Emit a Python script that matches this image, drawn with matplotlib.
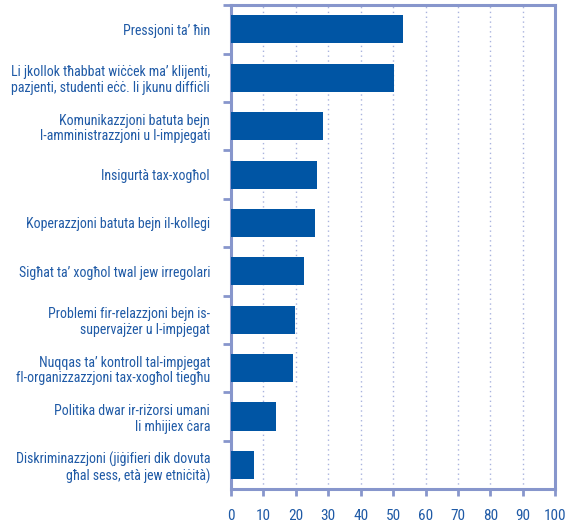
import matplotlib

matplotlib.use("Agg")
import matplotlib.pyplot as plt  # noqa: E402
import matplotlib.font_manager as fm  # noqa: E402
from matplotlib.ticker import FixedLocator  # noqa: E402

_names = {f.name for f in fm.fontManager.ttflist}
_FONT = next((n for n in ("Liberation Sans Narrow", "Roboto Condensed", "Open Sans Condensed")
              if n in _names), "Liberation Sans")

plt.rcParams.update({
    "font.family": [_FONT, "DejaVu Sans"],
    "font.size": 10,
})

categories = [
    "Pressjoni ta\u2019 \u0127in",
    "Li jkollok t\u0127abbat wi\u010b\u010bek ma\u2019 klijenti,\npazjenti, studenti e\u010b\u010b. li jkunu diffi\u010bli",
    "Komunikazzjoni batuta bejn\nl-amministrazzjoni u l-impjegati",
    "Insigurt\u00e0 tax-xog\u0127ol",
    "Koperazzjoni batuta bejn il-kollegi",
    "Sig\u0127at ta\u2019 xog\u0127ol twal jew irregolari",
    "Problemi fir-relazzjoni bejn is-\nsupervaj\u017cer u l-impjegat",
    "Nuqqas ta\u2019 kontroll tal-impjegat\nfl-organizzazzjoni tax-xog\u0127ol tieg\u0127u",
    "Politika dwar ir-ri\u017corsi umani\nli mhijiex \u010bara",
    "Diskriminazzjoni (ji\u0121ifieri dik dovuta\ng\u0127al sess, et\u00e0 jew etni\u010bit\u00e0)",
]
values = [53.1, 50.3, 28.4, 26.5, 25.9, 22.5, 19.8, 19.1, 13.9, 7.1]
xticks = list(range(0, 101, 10))

BAR = "#0055a4"
AXIS = "#8796cc"
TEXT = "#1f5aa6"
GRID = "#a9b3de"

fig = plt.figure(figsize=(5.66, 5.27), dpi=100)
ax = fig.add_axes([0.408, 0.072, 0.573, 0.918])

pos = list(range(len(categories)))
ax.barh(pos, values, height=0.58, color=BAR, zorder=3)

ax.set_xlim(0, 100)
ax.set_ylim(len(categories) - 0.5, -0.5)

ax.set_xticks(xticks)
ax.set_xticklabels([str(t) for t in xticks])
ax.xaxis.grid(True, linestyle=(0, (1, 2.5)), color=GRID, lw=1.0, zorder=0)

ax.set_yticks(pos)
ax.set_yticklabels(categories, ha="right", multialignment="right", linespacing=1.15)
ax.yaxis.set_minor_locator(FixedLocator([p + 0.5 for p in pos[:-1]] + [-0.5]))

ax.tick_params(axis="y", which="major", length=0, pad=15, labelcolor=TEXT, labelsize=10)
ax.tick_params(axis="y", which="minor", length=6, width=2, color=AXIS, direction="out")
ax.tick_params(axis="x", which="major", length=5, width=2, color=AXIS, direction="out",
               pad=9, labelcolor=TEXT, labelsize=11)

for s in ax.spines.values():
    s.set_color(AXIS)
    s.set_linewidth(2.2)

fig.savefig("out.png", dpi=100)
